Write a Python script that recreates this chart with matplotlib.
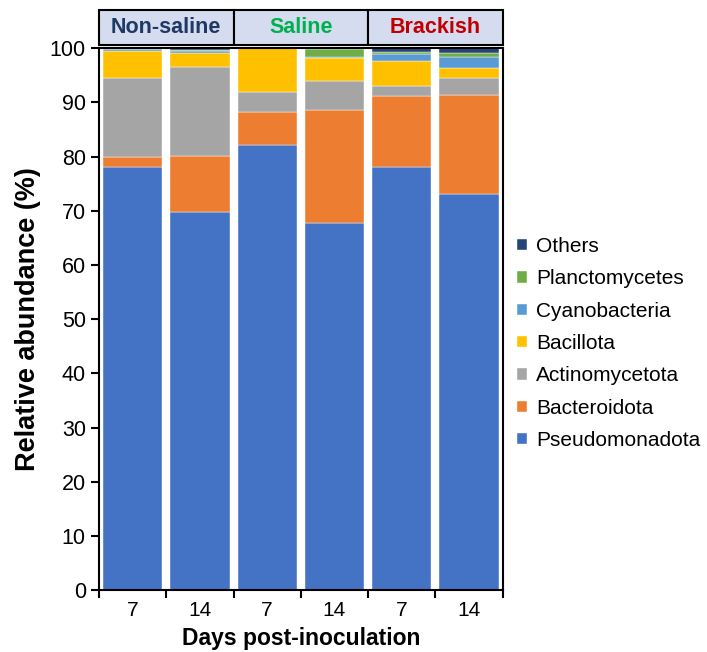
import numpy as np
import matplotlib.pyplot as plt
from matplotlib.patches import Rectangle

plt.rcParams['font.family'] = ['Liberation Sans', 'DejaVu Sans']

# 数据
groups = ["Non-saline", "Saline", "Brackish"]
group_colors = ["#1F3864", "#00B050", "#C00000"]
days = ["7", "14", "7", "14", "7", "14"]

taxa = ["Pseudomonadota", "Bacteroidota", "Actinomycetota", "Bacillota",
        "Cyanobacteria", "Planctomycetes", "Others"]
colors = ["#4472C4", "#ED7D31", "#A5A5A5", "#FFC000",
          "#5B9BD5", "#70AD47", "#264478"]

pseudomonadota = [78.0, 69.7, 82.1, 67.8, 78.1, 73.1]
bacteroidota = [1.9, 10.4, 6.1, 20.8, 13.0, 18.2]
actinomycetota = [14.7, 16.4, 3.8, 5.4, 2.0, 3.2]
bacillota = [4.9, 2.6, 8.0, 4.2, 4.6, 1.9]
cyanobacteria = [0.3, 0.3, 0.0, 0.1, 1.3, 1.9]
planctomycetes = [0.0, 0.3, 0.0, 1.5, 0.3, 0.9]
others = [0.2, 0.3, 0.0, 0.2, 0.7, 0.8]

series = [pseudomonadota, bacteroidota, actinomycetota, bacillota,
          cyanobacteria, planctomycetes, others]

fig = plt.figure(figsize=(7.07, 6.52), dpi=100)
ax = fig.add_axes([0.140, 0.095, 0.571, 0.831])

x = np.arange(len(days))
bottom = np.zeros(len(days))
for name, vals, c in zip(taxa, series, colors):
    ax.bar(x, vals, 0.88, bottom=bottom, color=c, label=name,
           edgecolor="white", linewidth=0.3)
    bottom += np.array(vals)

ax.set_xlim(-0.5, 5.5)
ax.set_ylim(0, 100)
ax.set_yticks(range(0, 101, 10))
ax.tick_params(axis="y", labelsize=15.5, length=6, width=1.5, direction="out")

# 刻度线在柱子之间，标签在柱子中间
ax.set_xticks(np.arange(-0.5, 6.0, 1.0))
ax.set_xticklabels([])
ax.set_xticks(x, minor=True)
ax.set_xticklabels(days, minor=True)
ax.tick_params(axis="x", which="major", length=6, width=1.5, direction="out")
ax.tick_params(axis="x", which="minor", length=0, labelsize=15, pad=8)

for s in ax.spines.values():
    s.set_linewidth(1.5)

ax.set_ylabel("Relative abundance (%)", fontsize=19.5, fontweight="bold", labelpad=6)
ax.set_xlabel("Days post-inoculation", fontsize=16.5, fontweight="bold", labelpad=5)

handles, labels = ax.get_legend_handles_labels()
leg = ax.legend(handles[::-1], labels[::-1], loc="center left",
                bbox_to_anchor=(0.99, 0.455), frameon=False, fontsize=15,
                handlelength=0.45, handleheight=0.45, handletextpad=0.45,
                labelspacing=0.64)

# 顶部分组标题
hax = fig.add_axes([0.140, 0.931, 0.571, 0.054])
hax.set_xlim(-0.5, 5.5)
hax.set_ylim(0, 1)
hax.axis("off")
for i, (g, gc) in enumerate(zip(groups, group_colors)):
    hax.add_patch(Rectangle((-0.5 + 2 * i, 0), 2, 1, facecolor="#D6DCEF",
                            edgecolor="black", linewidth=1.5, clip_on=False))
    hax.text(0.5 + 2 * i, 0.5, g, ha="center", va="center", color=gc,
             fontsize=15.5, fontweight="bold")

fig.savefig("out.png", dpi=100)
